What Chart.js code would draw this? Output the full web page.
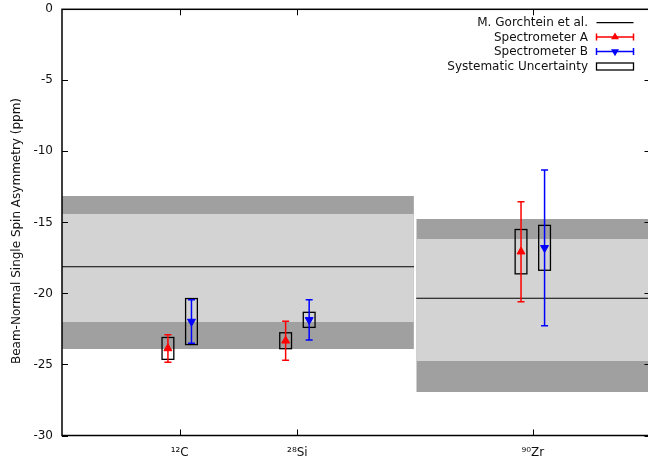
<!DOCTYPE html>
<html>
<head>
<meta charset="utf-8">
<script src="https://cdn.jsdelivr.net/npm/chart.js@4.4.1/dist/chart.umd.min.js"></script>
<style>
  html, body { margin: 0; padding: 0; background: #fff; overflow: hidden; }
  #wrap { position: relative; width: 653px; height: 459px; }
</style>
</head>
<body>
<div id="wrap"><canvas id="myChart"></canvas></div>
<script>
// targets on the x axis
const targets = ['¹²C', '²⁸Si', '⁹⁰Zr'];
const targetX = [1, 2, 4];

// measured asymmetries (ppm), statistical and systematic errors
const specA = [-23.87, -23.33, -17.06];
const specAStat = [0.97, 1.38, 3.52];
const specASys = [0.77, 0.56, 1.56];
const specB = [-21.98, -21.86, -16.79];
const specBStat = [1.53, 1.41, 5.48];
const specBSys = [1.62, 0.53, 1.58];

// theory (M. Gorchtein et al.) with its bands
const bandStart = [0, 3.01];
const bandEnd = [2.99, 5];
const theory = [-18.12, -20.34];
const outerHigh = [-13.14, -14.76];
const outerLow = [-23.91, -26.94];
const innerHigh = [-14.41, -16.17];
const innerLow = [-22.01, -24.76];

const yTicks = [0, -5, -10, -15, -20, -25, -30];

const FONT = '12px "DejaVu Sans", Verdana, sans-serif';
const shift = 0.1;

const datasets = [];
for (let r = 0; r < theory.length; r++) {
  const seg = (v) => [{x: bandStart[r], y: v}, {x: bandEnd[r], y: v}];
  datasets.push({data: seg(outerHigh[r]), fill: '+1', backgroundColor: '#a0a0a0', borderColor: 'rgba(0,0,0,0)', borderWidth: 0, pointRadius: 0, order: 30});
  datasets.push({data: seg(outerLow[r]), fill: false, borderColor: 'rgba(0,0,0,0)', borderWidth: 0, pointRadius: 0, order: 30});
  datasets.push({data: seg(innerHigh[r]), fill: '+1', backgroundColor: '#d3d3d3', borderColor: 'rgba(0,0,0,0)', borderWidth: 0, pointRadius: 0, order: 20});
  datasets.push({data: seg(innerLow[r]), fill: false, borderColor: 'rgba(0,0,0,0)', borderWidth: 0, pointRadius: 0, order: 20});
  datasets.push({data: seg(theory[r]), fill: false, borderColor: '#000', borderWidth: 1.1, pointRadius: 0, order: 10});
}
datasets.push({
  label: 'Spectrometer A',
  data: specA.map((v, i) => ({x: targetX[i] - shift, y: v})),
  showLine: false, pointStyle: 'triangle', pointRadius: 4.6,
  backgroundColor: '#ff0000', borderColor: '#ff0000', borderWidth: 1, order: 0
});
datasets.push({
  label: 'Spectrometer B',
  data: specB.map((v, i) => ({x: targetX[i] + shift, y: v})),
  showLine: false, pointStyle: 'triangle', pointRotation: 180, pointRadius: 4.6,
  backgroundColor: '#0000ff', borderColor: '#0000ff', borderWidth: 1, order: 0
});

// error bars + systematic boxes
function drawErrors(chart, vals, stat, sys, dx, color) {
  const {ctx, scales: {x, y}} = chart;
  vals.forEach((v, i) => {
    const px = x.getPixelForValue(targetX[i] + dx);
    const x0 = x.getPixelForValue(targetX[i] + dx - 0.05);
    const x1 = x.getPixelForValue(targetX[i] + dx + 0.05);
    ctx.strokeStyle = '#000';
    ctx.lineWidth = 1.3;
    const b0 = y.getPixelForValue(v + sys[i]);
    const b1 = y.getPixelForValue(v - sys[i]);
    ctx.strokeRect(x0, b0, x1 - x0, b1 - b0);
    const top = y.getPixelForValue(v + stat[i]);
    const bot = y.getPixelForValue(v - stat[i]);
    ctx.strokeStyle = color;
    ctx.lineWidth = 1.5;
    ctx.beginPath();
    ctx.moveTo(px, top); ctx.lineTo(px, bot);
    ctx.moveTo(px - 3.5, top); ctx.lineTo(px + 3.5, top);
    ctx.moveTo(px - 3.5, bot); ctx.lineTo(px + 3.5, bot);
    ctx.stroke();
  });
}

function triangle(ctx, cx, cy, r, down, color) {
  ctx.fillStyle = color;
  ctx.beginPath();
  const s = down ? -1 : 1;
  ctx.moveTo(cx, cy - s * r);
  ctx.lineTo(cx - r * 0.866, cy + s * r / 2);
  ctx.lineTo(cx + r * 0.866, cy + s * r / 2);
  ctx.closePath();
  ctx.fill();
}

const errorBars = {
  id: 'errorBars',
  beforeDatasetDraw(chart, args) {
    // boxes and bars just before the marker datasets
    if (args.index === datasets.length - 2) {
      chart.ctx.save();
      drawErrors(chart, specA, specAStat, specASys, -shift, '#ff0000');
      drawErrors(chart, specB, specBStat, specBSys, shift, '#0000ff');
      chart.ctx.restore();
    }
  }
};

const frame = {
  id: 'frame',
  afterDraw(chart) {
    const {ctx, chartArea: a, scales: {x, y}} = chart;
    ctx.save();
    ctx.strokeStyle = '#000';
    ctx.lineWidth = 1;
    ctx.beginPath();
    y.ticks.forEach(t => {
      const py = Math.round(y.getPixelForValue(t.value)) + 0.5;
      ctx.moveTo(a.left, py); ctx.lineTo(a.left + 6, py);
      ctx.moveTo(a.right, py); ctx.lineTo(a.right - 6, py);
    });
    x.ticks.forEach(t => {
      const px = Math.round(x.getPixelForValue(t.value)) + 0.5;
      ctx.moveTo(px, a.bottom); ctx.lineTo(px, a.bottom - 6);
      ctx.moveTo(px, a.top); ctx.lineTo(px, a.top + 6);
    });
    ctx.stroke();
    ctx.lineWidth = 1.5;
    ctx.strokeRect(a.left, a.top, a.right - a.left, a.bottom - a.top);

    // y axis title
    ctx.fillStyle = '#111';
    ctx.font = FONT;
    ctx.textAlign = 'center';
    ctx.textBaseline = 'middle';
    ctx.translate(17, 231);
    ctx.rotate(-Math.PI / 2);
    ctx.fillText('Beam-Normal Single Spin Asymmetry (ppm)', 0, 0);
    ctx.restore();

    // legend
    ctx.save();
    ctx.font = FONT;
    ctx.textAlign = 'right';
    ctx.textBaseline = 'middle';
    ctx.fillStyle = '#111';
    const rows = ['M. Gorchtein et al.', 'Spectrometer A', 'Spectrometer B', 'Systematic Uncertainty'];
    const ry = [22.7, 37, 51.6, 66.5];
    const sx0 = 596.5, sx1 = 633.5, sm = 615;
    rows.forEach((txt, i) => ctx.fillText(txt, 588, ry[i] + 0.5));
    ctx.lineWidth = 1.2;
    ctx.strokeStyle = '#000';
    ctx.beginPath(); ctx.moveTo(sx0, ry[0]); ctx.lineTo(sx1, ry[0]); ctx.stroke();
    [['#ff0000', false], ['#0000ff', true]].forEach(([c, down], k) => {
      const yy = ry[k + 1];
      ctx.strokeStyle = c;
      ctx.lineWidth = 1.5;
      ctx.beginPath();
      ctx.moveTo(sx0, yy); ctx.lineTo(sx1, yy);
      ctx.moveTo(sx0, yy - 3.5); ctx.lineTo(sx0, yy + 3.5);
      ctx.moveTo(sx1, yy - 3.5); ctx.lineTo(sx1, yy + 3.5);
      ctx.stroke();
      triangle(ctx, sm, yy, 4.6, down, c);
    });
    ctx.strokeStyle = '#000';
    ctx.lineWidth = 1.3;
    ctx.strokeRect(sx0, ry[3] - 3.5, sx1 - sx0, 7);
    ctx.restore();
  }
};

new Chart(document.getElementById('myChart'), {
  type: 'line',
  data: {datasets: datasets},
  options: {
    responsive: true,
    maintainAspectRatio: false,
    animation: false,
    layout: {autoPadding: false, padding: {top: 9.3, right: 2.5, left: 0, bottom: 0}},
    plugins: {legend: {display: false}, tooltip: {enabled: false}},
    scales: {
      x: {
        type: 'linear', min: 0, max: 5,
        afterBuildTicks: (s) => { s.ticks = targetX.map(v => ({value: v})); },
        afterFit: (s) => { s.height = 23.5; s.paddingLeft = 0; s.paddingRight = 0; },
        grid: {display: false, drawTicks: false},
        border: {display: false},
        ticks: {
          padding: 10, color: '#111',
          font: {family: '"DejaVu Sans", Verdana, sans-serif', size: 12},
          callback: (v) => targets[targetX.indexOf(v)]
        }
      },
      y: {
        type: 'linear', min: -30, max: 0,
        afterBuildTicks: (s) => { s.ticks = yTicks.map(v => ({value: v})); },
        afterFit: (s) => { s.width = 62; s.paddingTop = 0; s.paddingBottom = 0; },
        grid: {display: false, drawTicks: false},
        border: {display: false},
        ticks: {
          padding: 9, color: '#111',
          font: {family: '"DejaVu Sans", Verdana, sans-serif', size: 12}
        }
      }
    }
  },
  plugins: [errorBars, frame]
});
</script>
</body>
</html>
